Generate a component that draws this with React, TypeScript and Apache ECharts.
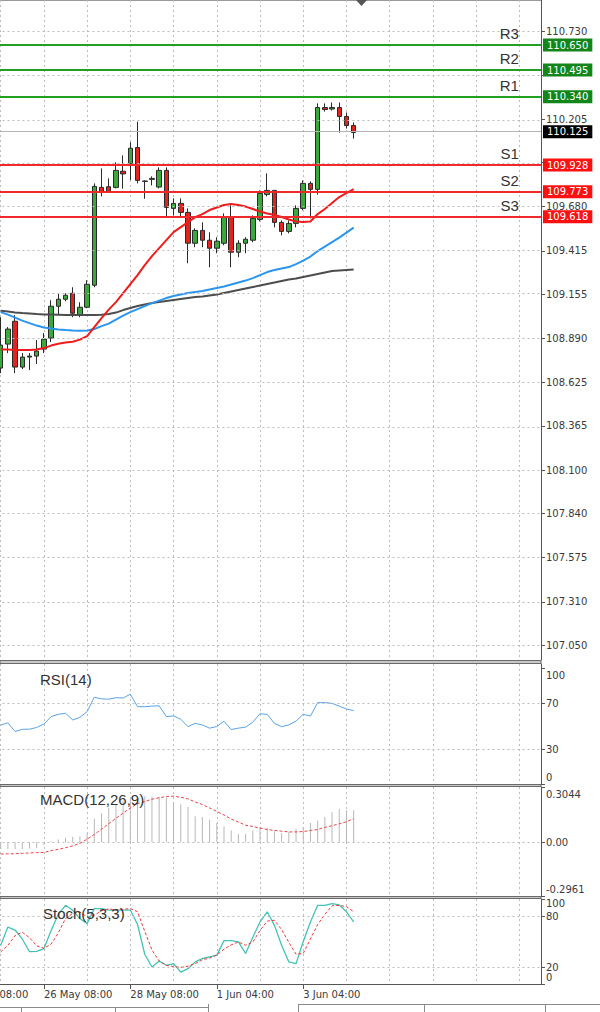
import React, { useEffect, useRef } from 'react';
import * as echarts from 'echarts';

// ---------- data ----------
const X_TICK_LABELS = ['08:00', '26 May 08:00', '28 May 08:00', '1 Jun 04:00', '3 Jun 04:00'];
const BAR_SLOTS = 82; // H4 bar slots across the time axis
const FIRST_BAR_SLOT = 6; // slot of the first drawn candle
const BARS_PER_LABEL = 12;
const BARS_PER_GRIDLINE = 6;

const OPEN = [108.712, 108.856, 108.993, 108.718, 108.778, 108.784, 108.826, 108.892, 109.083, 109.125, 109.161, 109.029, 109.077, 109.209, 109.796, 109.800, 109.796, 109.893, 109.937, 110.035, 109.834, 109.844, 109.798, 109.898, 109.670, 109.700, 109.646, 109.461, 109.538, 109.479, 109.431, 109.461, 109.616, 109.407, 109.461, 109.479, 109.604, 109.754, 109.778, 109.586, 109.532, 109.580, 109.670, 109.820, 109.784, 110.275, 110.266, 110.275, 110.221, 110.167];
const CLOSE = [108.850, 108.946, 108.718, 108.778, 108.784, 108.814, 108.886, 109.083, 109.125, 109.149, 109.041, 109.077, 109.215, 109.802, 109.766, 109.770, 109.898, 109.877, 110.031, 109.838, 109.832, 109.850, 109.898, 109.676, 109.700, 109.646, 109.461, 109.538, 109.479, 109.431, 109.473, 109.616, 109.407, 109.461, 109.485, 109.610, 109.760, 109.778, 109.586, 109.532, 109.580, 109.670, 109.820, 109.784, 110.275, 110.263, 110.275, 110.221, 110.167, 110.125];
const HIGH = [109.017, 108.958, 109.030, 108.802, 108.802, 108.880, 108.922, 109.119, 109.161, 109.161, 109.197, 109.107, 109.239, 109.820, 109.910, 109.850, 109.946, 109.988, 110.067, 110.190, 109.838, 109.862, 109.916, 109.916, 109.730, 109.730, 109.670, 109.550, 109.586, 109.527, 109.497, 109.640, 109.688, 109.479, 109.497, 109.628, 109.778, 109.880, 109.778, 109.598, 109.598, 109.688, 109.838, 109.832, 110.300, 110.300, 110.305, 110.305, 110.245, 110.185];
const LOW = [108.682, 108.802, 108.682, 108.706, 108.700, 108.736, 108.802, 108.868, 109.035, 109.113, 109.017, 109.017, 109.071, 109.197, 109.742, 109.765, 109.790, 109.788, 109.840, 109.820, 109.728, 109.808, 109.790, 109.622, 109.628, 109.620, 109.341, 109.437, 109.437, 109.317, 109.401, 109.449, 109.317, 109.377, 109.401, 109.467, 109.592, 109.742, 109.556, 109.508, 109.520, 109.556, 109.658, 109.610, 109.752, 110.251, 110.257, 110.125, 110.149, 110.089];

const MA_RED = [108.824, 108.823, 108.821, 108.820, 108.821, 108.823, 108.832, 108.847, 108.858, 108.865, 108.870, 108.883, 108.904, 108.958, 109.012, 109.063, 109.108, 109.162, 109.216, 109.270, 109.330, 109.384, 109.432, 109.480, 109.528, 109.558, 109.588, 109.618, 109.636, 109.660, 109.675, 109.690, 109.696, 109.690, 109.681, 109.666, 109.651, 109.639, 109.630, 109.618, 109.603, 109.591, 109.588, 109.591, 109.636, 109.666, 109.702, 109.738, 109.762, 109.786];
const MA_BLUE = [109.048, 109.033, 109.015, 108.997, 108.982, 108.967, 108.955, 108.949, 108.944, 108.940, 108.937, 108.936, 108.938, 108.946, 108.964, 108.979, 109.003, 109.027, 109.048, 109.066, 109.084, 109.102, 109.117, 109.132, 109.144, 109.153, 109.162, 109.168, 109.174, 109.183, 109.192, 109.201, 109.213, 109.225, 109.237, 109.252, 109.270, 109.288, 109.300, 109.309, 109.318, 109.336, 109.357, 109.381, 109.414, 109.441, 109.468, 109.495, 109.525, 109.555];
const MA_GRAY = [109.056, 109.051, 109.046, 109.042, 109.039, 109.036, 109.034, 109.033, 109.032, 109.030, 109.030, 109.030, 109.030, 109.030, 109.032, 109.036, 109.045, 109.060, 109.072, 109.084, 109.093, 109.102, 109.108, 109.114, 109.120, 109.126, 109.132, 109.138, 109.141, 109.147, 109.153, 109.162, 109.171, 109.180, 109.189, 109.198, 109.207, 109.216, 109.225, 109.234, 109.243, 109.249, 109.258, 109.267, 109.276, 109.285, 109.294, 109.298, 109.301, 109.304];

const RSI = [51, 53, 45.5, 47.4, 47.5, 49, 52, 58.4, 60.4, 61.3, 55.5, 57.8, 62.7, 75.2, 73.8, 73.5, 74.8, 74.5, 77.8, 67, 67, 67.5, 67.8, 58.4, 59, 56.1, 49.7, 52.6, 51.1, 48.4, 49.8, 54.4, 47.2, 48.4, 49.3, 53.6, 60.9, 60.3, 52.6, 49.7, 51.2, 54.5, 60.4, 58.9, 70.5, 70.5, 69.9, 67.5, 65, 63.6];
const MACD_HIST = [-0.037, -0.037, -0.037, -0.037, -0.035, -0.033, -0.015, 0.005, 0.015, 0.025, 0.031, 0.033, 0.05, 0.13, 0.16, 0.19, 0.21, 0.23, 0.241, 0.25, 0.254, 0.25, 0.25, 0.246, 0.222, 0.209, 0.195, 0.143, 0.139, 0.124, 0.106, 0.087, 0.065, 0.046, 0.046, 0.065, 0.083, 0.08, 0.061, 0.05, 0.056, 0.074, 0.083, 0.106, 0.12, 0.139, 0.167, 0.185, 0.176, 0.176];
const MACD_SIGNAL = [-0.065, -0.064, -0.063, -0.061, -0.059, -0.057, -0.056, -0.046, -0.039, -0.03, -0.02, -0.006, 0.017, 0.043, 0.072, 0.102, 0.132, 0.161, 0.189, 0.213, 0.224, 0.237, 0.245, 0.252, 0.254, 0.248, 0.239, 0.222, 0.208, 0.189, 0.17, 0.15, 0.128, 0.111, 0.094, 0.087, 0.078, 0.07, 0.065, 0.061, 0.057, 0.057, 0.059, 0.065, 0.07, 0.082, 0.091, 0.102, 0.113, 0.13];
const STOCH_K = [45.5, 67, 63.5, 53, 38, 38.5, 41.6, 63, 82, 92.6, 86.7, 77, 71, 88.7, 88.7, 87, 87, 87, 87, 70, 35, 20, 27, 22, 24, 14, 18, 26, 30, 32, 34, 51, 51, 49.5, 36, 55, 73, 85, 69, 45.5, 26, 24, 50, 73, 92.6, 92.6, 94.6, 93, 85, 73];
const STOCH_D = [37.6, 45.5, 57, 61, 54.5, 45, 42, 47, 60, 77, 83, 84.7, 79, 81, 86, 88.5, 87, 88, 88.7, 85, 62, 40, 27, 22, 20.5, 19.5, 21, 24, 28.5, 30.5, 34, 41, 46, 49.5, 45.5, 49.4, 63, 74, 75, 64, 49, 35, 36, 53, 70, 82, 92, 92.5, 91, 85];

const LEVEL_NAMES = ['R3', 'R2', 'R1', 'S1', 'S2', 'S3'];
const LEVEL_VALUES = [110.65, 110.495, 110.34, 109.928, 109.773, 109.618];
const LAST_PRICE = 110.125;

const PRICE_TICKS = [107.05, 107.31, 107.575, 107.84, 108.1, 108.365, 108.625, 108.89, 109.155, 109.415, 109.68, 109.945, 110.205, 110.47, 110.73];
const PRICE_TICKS_COVERED = [109.945, 110.47];
const RSI_TICKS = [0, 30, 70, 100];
const RSI_LEVELS = [30, 70];
const MACD_TICKS = [-0.2961, 0, 0.3044];
const STOCH_TICKS = [0, 20, 80, 100];
const STOCH_LEVELS = [20, 80];

// ---------- styling ----------
const FONT = 'DejaVu Sans';
const TITLE_FONT = 'Liberation Sans';
const AXIS_COLOR = '#555';
const LABEL_COLOR = '#3a3a3a';
const GRID_LINE = { color: '#bdbdbd', type: [2, 3] as number[], width: 1 };
const GREEN_LINE = '#22a022';
const GREEN_BOX = '#12861a';
const RED_LINE = '#f02a2a';
const RED_BOX = '#ff1010';

const BAR_STEP = 7.204;
const GRID_LEFT = 0.67 - FIRST_BAR_SLOT * BAR_STEP;
const GRID_WIDTH = (BAR_SLOTS - 1) * BAR_STEP;

const CATEGORIES = Array.from({ length: BAR_SLOTS }, (_, i) => 'bar' + i);
const slot = (i: number) => i + FIRST_BAR_SLOT;
const pairs = (arr: number[]) => arr.map((v, i) => [slot(i), v]);

const labelSlot = (i: number) => i % BARS_PER_LABEL === 0 && i / BARS_PER_LABEL < X_TICK_LABELS.length;

const xRichBase = { fontSize: 10, fontFamily: 'DejaVu Sans', color: '#3a3a3a' };

function xAxis(gridIndex: number, showLabels: boolean) {
  return {
    type: 'category',
    gridIndex,
    data: CATEGORIES,
    boundaryGap: false,
    axisLine: { show: showLabels, lineStyle: { color: AXIS_COLOR } },
    axisTick: { show: showLabels, interval: (i: number) => labelSlot(i), length: 5, lineStyle: { color: AXIS_COLOR } },
    axisLabel: {
      show: showLabels,
      interval: (i: number) => labelSlot(i),
      formatter: (_v: string, i: number) => {
        const t = X_TICK_LABELS[i / BARS_PER_LABEL] ?? '';
        return i === 0 ? '{edge|' + t + '}' : '{n|' + t + '}';
      },
      rich: {
        edge: { ...xRichBase, padding: [0, 0, 0, Math.round(-GRID_LEFT) - 1] },
        n: { ...xRichBase },
      },
      align: 'left',
      margin: 5,
      fontSize: 10,
      fontFamily: FONT,
      color: LABEL_COLOR,
      hideOverlap: false,
      showMinLabel: true,
    },
    splitLine: { show: true, interval: (i: number) => i % BARS_PER_GRIDLINE === 0, lineStyle: GRID_LINE },
  };
}

const richBase = { fontSize: 10, fontFamily: FONT, color: LABEL_COLOR };
const rich = {
  dn: { ...richBase, padding: [14, 0, 0, 0] },
  dn8: { ...richBase, padding: [8, 0, 0, 0] },
  up: { ...richBase, padding: [0, 0, 14, 0] },
  n: { ...richBase },
};

function yAxis(gridIndex: number, min: number, max: number, ticks: number[], labels: number[], formatter: (v: number) => string, useRich: boolean) {
  return {
    type: 'value',
    gridIndex,
    position: 'right',
    min,
    max,
    axisLine: { show: true, lineStyle: { color: AXIS_COLOR } },
    axisTick: { show: true, customValues: ticks, length: 4, lineStyle: { color: AXIS_COLOR } },
    axisLabel: {
      customValues: labels,
      formatter,
      fontSize: 10,
      fontFamily: FONT,
      color: LABEL_COLOR,
      margin: 5,
      hideOverlap: false,
      showMinLabel: true,
      showMaxLabel: true,
      ...(useRich ? { rich } : {}),
    },
    splitLine: { show: false },
  };
}

function gridLines(axisIndex: number, values: number[]) {
  return {
    type: 'line',
    xAxisIndex: axisIndex,
    yAxisIndex: axisIndex,
    data: [],
    silent: true,
    z: 0,
    markLine: {
      silent: true,
      symbol: ['none', 'none'],
      label: { show: false },
      lineStyle: GRID_LINE,
      data: values.map((v) => ({ yAxis: v })),
    },
  };
}

function buildOption() {
  const levelLines: any[] = [];
  LEVEL_NAMES.forEach((name, i) => {
    const isR = name.startsWith('R');
    const v = LEVEL_VALUES[i];
    levelLines.push({
      yAxis: v,
      name,
      lineStyle: { color: isR ? GREEN_LINE : RED_LINE, width: 2, type: 'solid' },
      label: {
        show: true,
        position: 'insideEndTop',
        formatter: name,
        fontSize: 15,
        fontFamily: TITLE_FONT,
        color: '#333',
        distance: 4,
        padding: [0, 18, 0, 0],
      },
    });
    levelLines.push({
      yAxis: v,
      lineStyle: { color: 'rgba(0,0,0,0)', width: 0 },
      label: {
        show: true,
        position: 'end',
        formatter: v.toFixed(3),
        backgroundColor: isR ? GREEN_BOX : RED_BOX,
        color: '#ffffff',
        fontSize: 10,
        fontFamily: FONT,
        padding: [2, 4, 1, 4],
        distance: 2,
      },
    });
  });
  levelLines.push({
    yAxis: LAST_PRICE,
    lineStyle: { color: '#b4b4b4', width: 1, type: 'solid' },
    label: {
      show: true,
      position: 'end',
      formatter: LAST_PRICE.toFixed(3),
      backgroundColor: '#000000',
      color: '#ffffff',
      fontSize: 10,
      fontFamily: FONT,
      padding: [2, 4, 1, 4],
      distance: 2,
    },
  });

  const titleStyle = { fontSize: 15, fontWeight: 'normal', fontFamily: TITLE_FONT, color: '#333' };
  const gridBase = { left: GRID_LEFT, width: GRID_WIDTH, outerBoundsMode: 'none', containLabel: false };

  return {
    animation: false,
    backgroundColor: '#ffffff',
    title: [
      { text: 'RSI(14)', left: 40, top: 672, padding: 0, textStyle: titleStyle },
      { text: 'MACD(12,26,9)', left: 40, top: 792, padding: 0, textStyle: titleStyle },
      { text: 'Stoch(5,3,3)', left: 43, top: 906, padding: 0, textStyle: titleStyle },
    ],
    grid: [
      { ...gridBase, top: 0, height: 660 },
      { ...gridBase, top: 664, height: 120 },
      { ...gridBase, top: 787, height: 109 },
      { ...gridBase, top: 899, height: 85 },
    ],
    xAxis: [xAxis(0, false), xAxis(1, false), xAxis(2, false), xAxis(3, true)],
    yAxis: [
      yAxis(0, 106.961, 110.92, PRICE_TICKS, PRICE_TICKS.filter((v) => !PRICE_TICKS_COVERED.includes(v)), (v) => v.toFixed(3), false),
      yAxis(1, 0, 104, RSI_TICKS, RSI_TICKS, (v) => (v === 100 ? '{dn|100}' : v === 0 ? '{up|0}' : '{n|' + v + '}'), true),
      yAxis(2, MACD_TICKS[0], MACD_TICKS[2], MACD_TICKS, MACD_TICKS, (v) => (v > 0.3 ? '{dn|' + v.toFixed(4) + '}' : v < -0.29 ? '{up|' + v.toFixed(4) + '}' : '{n|0.00}'), true),
      yAxis(3, 0, 100, STOCH_TICKS, STOCH_TICKS, (v) => (v === 100 ? '{dn8|100}' : v === 0 ? '{up|0}' : '{n|' + v + '}'), true),
    ],
    series: [
      gridLines(0, PRICE_TICKS),
      {
        type: 'candlestick',
        xAxisIndex: 0,
        yAxisIndex: 0,
        barWidth: 5,
        z: 2,
        encode: { x: 0, y: [1, 2, 3, 4] },
        data: OPEN.map((o, i) => [slot(i), o, CLOSE[i], LOW[i], HIGH[i]]),
        itemStyle: { color: '#3aa83a', color0: '#e3241e', borderColor: '#2a2a2a', borderColor0: '#2a2a2a', borderWidth: 1 },
      },
      { type: 'line', xAxisIndex: 0, yAxisIndex: 0, z: 3, symbol: 'none', data: pairs(MA_GRAY), lineStyle: { color: '#4d4d4d', width: 2 } },
      { type: 'line', xAxisIndex: 0, yAxisIndex: 0, z: 3, symbol: 'none', data: pairs(MA_BLUE), lineStyle: { color: '#2b95f0', width: 2 } },
      { type: 'line', xAxisIndex: 0, yAxisIndex: 0, z: 3, symbol: 'none', data: pairs(MA_RED), lineStyle: { color: '#f01c1c', width: 2 } },
      {
        type: 'line',
        xAxisIndex: 0,
        yAxisIndex: 0,
        data: [],
        z: 4,
        silent: true,
        markLine: { silent: true, symbol: ['none', 'none'], data: levelLines },
      },
      gridLines(1, RSI_LEVELS),
      { type: 'line', xAxisIndex: 1, yAxisIndex: 1, symbol: 'none', data: pairs(RSI), lineStyle: { color: '#5aa3e6', width: 1 } },
      gridLines(2, [0]),
      { type: 'bar', xAxisIndex: 2, yAxisIndex: 2, barWidth: 1, data: pairs(MACD_HIST), itemStyle: { color: '#b8b8b8' } },
      { type: 'line', xAxisIndex: 2, yAxisIndex: 2, symbol: 'none', data: pairs(MACD_SIGNAL), lineStyle: { color: '#e8454a', width: 1, type: [3, 2] } },
      gridLines(3, STOCH_LEVELS),
      { type: 'line', xAxisIndex: 3, yAxisIndex: 3, symbol: 'none', data: pairs(STOCH_K), lineStyle: { color: '#45c2b6', width: 1.3 } },
      { type: 'line', xAxisIndex: 3, yAxisIndex: 3, symbol: 'none', data: pairs(STOCH_D), lineStyle: { color: '#f03a3a', width: 1, type: [3, 2] } },
    ],
    graphic: [
      { type: 'line', shape: { x1: 0, y1: 0.5, x2: 541, y2: 0.5 }, style: { stroke: '#9a9a9a', lineWidth: 1 } },
      { type: 'polygon', shape: { points: [[356, 0], [367, 0], [361.5, 6]] }, style: { fill: '#555' } },
      { type: 'rect', shape: { x: 0, y: 660.5, width: 541, height: 3 }, style: { fill: '#c8c8c8', stroke: '#6a6a6a', lineWidth: 1 } },
      { type: 'rect', shape: { x: 0, y: 784.5, width: 541, height: 2 }, style: { fill: '#c8c8c8', stroke: '#6a6a6a', lineWidth: 1 } },
      { type: 'rect', shape: { x: 0, y: 896.5, width: 541, height: 2 }, style: { fill: '#c8c8c8', stroke: '#6a6a6a', lineWidth: 1 } },
      { type: 'line', shape: { x1: 0, y1: 1007.5, x2: 208, y2: 1007.5 }, style: { stroke: '#8a8a8a', lineWidth: 1 } },
      { type: 'line', shape: { x1: 21.5, y1: 1007, x2: 21.5, y2: 1012 }, style: { stroke: '#8a8a8a', lineWidth: 1 } },
      { type: 'line', shape: { x1: 115.5, y1: 1007, x2: 115.5, y2: 1012 }, style: { stroke: '#8a8a8a', lineWidth: 1 } },
      { type: 'line', shape: { x1: 208.5, y1: 1004, x2: 208.5, y2: 1012 }, style: { stroke: '#8a8a8a', lineWidth: 1 } },
      { type: 'line', shape: { x1: 298.5, y1: 1004, x2: 298.5, y2: 1012 }, style: { stroke: '#8a8a8a', lineWidth: 1 } },
      { type: 'line', shape: { x1: 298, y1: 1004.5, x2: 600, y2: 1004.5 }, style: { stroke: '#8a8a8a', lineWidth: 1 } },
      { type: 'line', shape: { x1: 424.5, y1: 1005, x2: 424.5, y2: 1012 }, style: { stroke: '#8a8a8a', lineWidth: 1 } },
      { type: 'line', shape: { x1: 545.5, y1: 1005, x2: 545.5, y2: 1012 }, style: { stroke: '#8a8a8a', lineWidth: 1 } },
    ],
  };
}

export default function App() {
  const ref = useRef<HTMLDivElement>(null);
  useEffect(() => {
    document.body.style.margin = '0';
    const chart = echarts.init(ref.current as HTMLDivElement, null, { renderer: 'svg' });
    chart.setOption(buildOption() as any);
    return () => chart.dispose();
  }, []);
  return <div ref={ref} style={{ width: 600, height: 1012 }} />;
}
